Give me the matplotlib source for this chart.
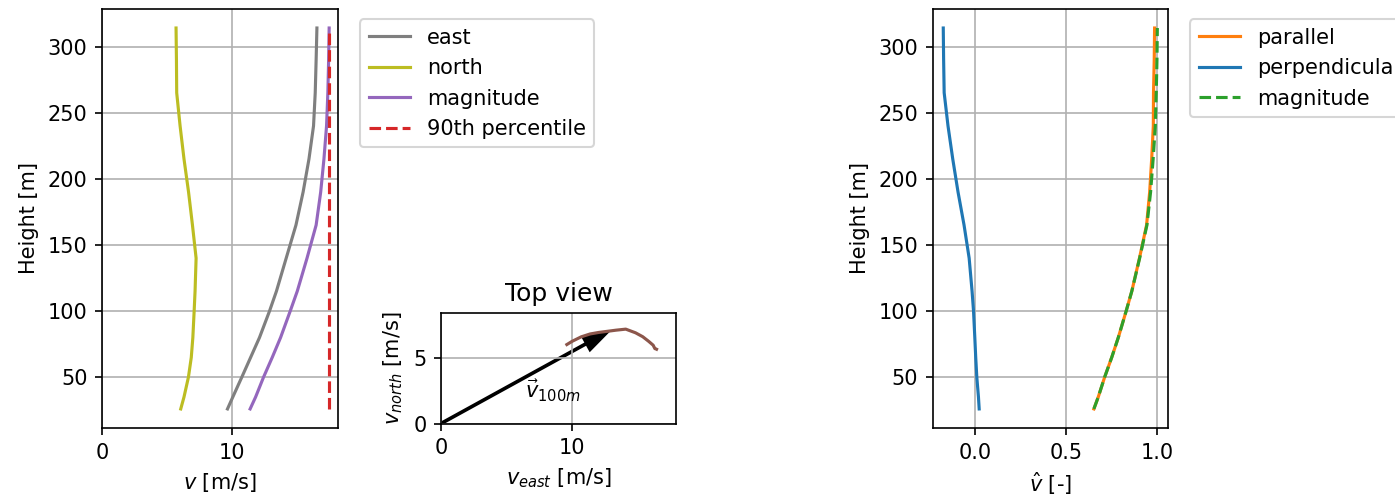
import matplotlib.pyplot as plt

# Heights of the profile [m]
heights = [26, 35, 50, 65, 80, 100, 115, 140, 165, 190, 215, 240, 265, 290, 314]

# Wind components [m/s]
v_east = [9.64, 10.05, 10.74, 11.42, 12.1, 12.87, 13.4, 14.15, 14.9, 15.45, 15.9, 16.25, 16.38, 16.45, 16.51]
v_north = [6.05, 6.3, 6.64, 6.86, 6.98, 7.08, 7.15, 7.23, 6.95, 6.65, 6.3, 6.0, 5.74, 5.72, 5.69]
v_mag = [11.38, 11.8, 12.41, 13.08, 13.72, 14.46, 15.0, 15.75, 16.45, 16.8, 17.05, 17.25, 17.35, 17.41, 17.45]
v_p90 = 17.45

# Normalised components [-]
v_par = [0.652, 0.676, 0.711, 0.75, 0.786, 0.829, 0.86, 0.902, 0.941, 0.958, 0.969, 0.978, 0.979, 0.983, 0.985]
v_perp = [0.023, 0.019, 0.01, 0.004, -0.001, -0.008, -0.016, -0.032, -0.06, -0.093, -0.122, -0.148, -0.169, -0.172, -0.174]
v_mag_norm = [0.652, 0.676, 0.711, 0.75, 0.786, 0.829, 0.86, 0.903, 0.943, 0.963, 0.977, 0.989, 0.994, 0.998, 1.0]

# wind vector at 100 m
i100 = heights.index(100)
e100, n100 = v_east[i100], v_north[i100]

fig = plt.figure(figsize=(9.3, 3.3), dpi=150)

# Left: profiles
ax1 = fig.add_axes([0.0731, 0.1354, 0.1692, 0.8465])
ax1.plot(v_east, heights, color='tab:gray', label='east')
ax1.plot(v_north, heights, color='tab:olive', label='north')
ax1.plot(v_mag, heights, color='tab:purple', label='magnitude')
ax1.plot([v_p90, v_p90], [heights[0], heights[-1]], '--', color='tab:red', label='90th percentile')
ax1.set_xlim(0, 18.13)
ax1.set_xlabel('$v$ [m/s]')
ax1.set_ylabel('Height [m]')
ax1.grid(True)
ax1.legend(bbox_to_anchor=(1.05, 1), loc='upper left')

# Middle: top view
ax2 = fig.add_axes([0.3161, 0.1434, 0.1685, 0.2248])
ax2.plot(v_east, v_north, color='tab:brown')
ax2.arrow(0, 0, e100, n100, width=0.12, head_width=1.2, head_length=2.0,
          length_includes_head=True, color='k')
ax2.text(e100 / 2, n100 / 2, r'$\vec{v}_{100m}$', ha='left', va='top')
ax2.set_xlim(0, 18)
ax2.set_ylim(0, 8.45)
ax2.set_aspect('equal')
ax2.set_xticks([0, 10])
ax2.set_yticks([0, 5])
ax2.set_title('Top view')
ax2.set_xlabel('$v_{east}$ [m/s]')
ax2.set_ylabel('$v_{north}$ [m/s]')
ax2.grid(True)

# Right: normalised profiles
ax3 = fig.add_axes([0.6685, 0.1354, 0.1688, 0.8465])
ax3.plot(v_par, heights, color='tab:orange', label='parallel')
ax3.plot(v_perp, heights, color='tab:blue', label='perpendicular')
ax3.plot(v_mag_norm, heights, '--', color='tab:green', label='magnitude')
ax3.set_xlabel(r'$\hat{v}$ [-]')
ax3.set_ylabel('Height [m]')
ax3.grid(True)
ax3.legend(bbox_to_anchor=(1.05, 1), loc='upper left')

plt.savefig('out.png')
